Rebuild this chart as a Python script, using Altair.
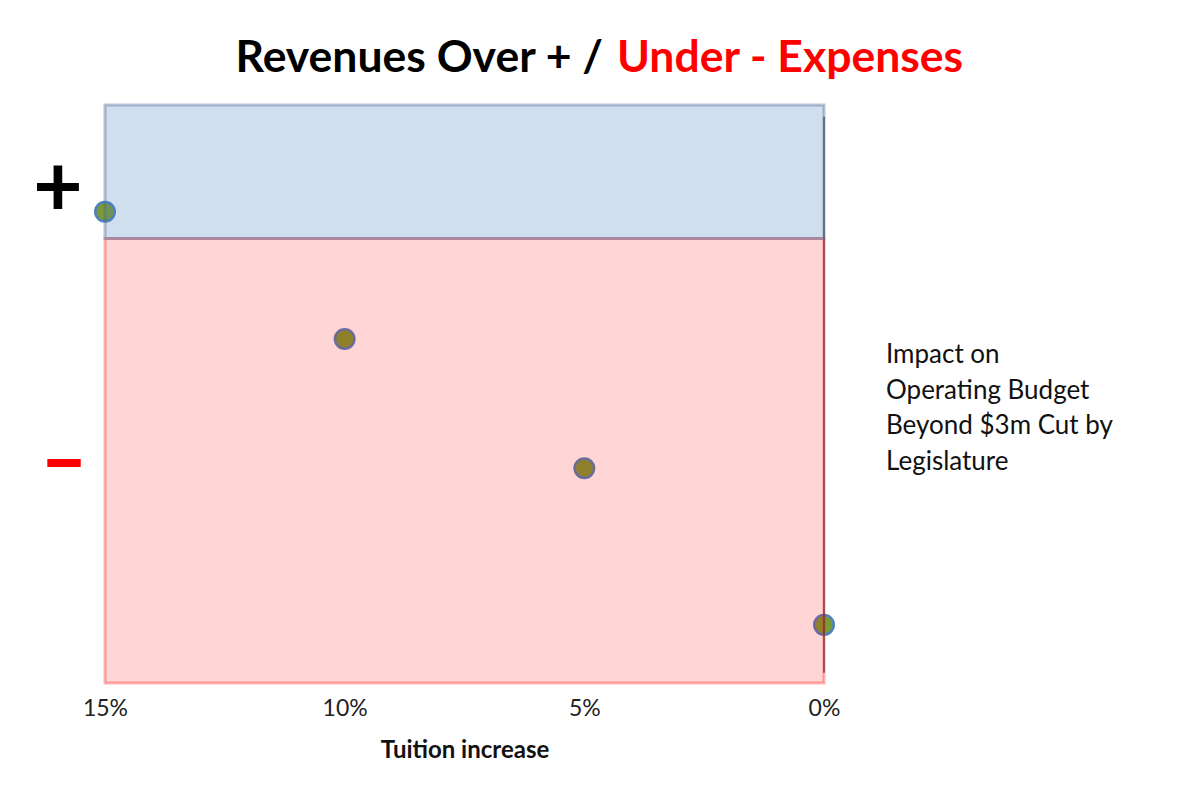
import altair as alt
import pandas as pd

# ---- data ----
tuition = [0.15, 0.10, 0.05, 0.0]
impact = [0.39, -1.47, -3.36, -5.65]

y_top = 1.95
y_bottom = -6.5

band_x_start = [0.15, 0.15]
band_x_end = [0.0, 0.0]
band_y_start = [0.0, y_bottom]
band_y_end = [y_top, 0.0]
band_name = ["over", "under"]

x_ticks = [0.15, 0.10, 0.05, 0.0]

title_black = "Revenues Over + /"
title_red = "Under - Expenses"
note_lines = ["Impact on", "Operating Budget", "Beyond $3m Cut by", "Legislature"]

W, H = 719, 578
FONT = "Lato"

pts = pd.DataFrame({"tuition": tuition, "impact": impact})
bands = pd.DataFrame({"x": band_x_start, "x2": band_x_end, "y": band_y_start,
                      "y2": band_y_end, "band": band_name})
axis_line = pd.DataFrame({"x": [0.0], "y": [1.78], "y2": [-6.35]})

xscale = alt.Scale(domain=[0.0, 0.15], reverse=True, nice=False, zero=False)
yscale = alt.Scale(domain=[y_bottom, y_top], nice=False, zero=False)

xaxis = alt.Axis(values=x_ticks, format=".0%", domain=False, ticks=False, grid=False,
                 labelFlush=False,
                 labelFont=FONT, labelFontSize=23, labelColor="#222222", labelPadding=14,
                 title="Tuition increase", titleFont=FONT, titleFontSize=24,
                 titleFontWeight="bold", titleColor="#111111", titlePadding=18)

points = alt.Chart(pts).mark_point(
    shape="circle", filled=True, size=380, fill="#7a9a35", fillOpacity=1,
    stroke="#4f81bd", strokeWidth=2.5, strokeOpacity=1, opacity=1
).encode(
    x=alt.X("tuition:Q", scale=xscale, axis=xaxis),
    y=alt.Y("impact:Q", scale=yscale, axis=None),
)

vline = alt.Chart(axis_line).mark_rule(color="#4a4a4a", strokeWidth=1.5).encode(
    x="x:Q", y="y:Q", y2="y2:Q"
)

red = alt.Chart(bands[bands.band == "under"]).mark_rect(
    fill="#ff0000", fillOpacity=0.165, stroke="#ff0000", strokeWidth=3, strokeOpacity=0.3
).encode(x="x:Q", x2="x2:Q", y="y:Q", y2="y2:Q")

blue = alt.Chart(bands[bands.band == "over"]).mark_rect(
    fill="#4f81bd", fillOpacity=0.26, stroke="#4a6a95", strokeWidth=3, strokeOpacity=0.4
).encode(x="x:Q", x2="x2:Q", y="y:Q", y2="y2:Q")

t1 = alt.Chart(pd.DataFrame({"t": [title_black]})).mark_text(
    font=FONT, fontSize=44.5, fontWeight="bold", color="#000000", align="right",
    baseline="alphabetic"
).encode(x=alt.value(498), y=alt.value(-33), text="t:N")

t2 = alt.Chart(pd.DataFrame({"t": [title_red]})).mark_text(
    font=FONT, fontSize=44.5, fontWeight="bold", color="#ff0000", align="left",
    baseline="alphabetic"
).encode(x=alt.value(512), y=alt.value(-33), text="t:N")

plus = alt.Chart(pd.DataFrame({"t": ["+"]})).mark_text(
    font=FONT, fontSize=86, fontWeight="bold", color="#000000", align="center",
    baseline="middle"
).encode(x=alt.value(-47), y=alt.value(85), text="t:N")

minus = alt.Chart(pd.DataFrame({"t": ["–"]})).mark_text(
    font=FONT, fontSize=82, fontWeight=900, color="#ff0000", align="center",
    baseline="middle"
).encode(x=alt.value(-41), y=alt.value(358), text="t:N")

note = alt.Chart(pd.DataFrame({"t": [0]})).mark_text(
    font=FONT, fontSize=26, color="#111111", align="left", baseline="alphabetic",
    lineHeight=35.6, text=note_lines
).encode(x=alt.value(781), y=alt.value(258))

chart = alt.layer(points, vline, red, blue, t1, t2, plus, minus, note).properties(
    width=W, height=H,
    autosize=alt.AutoSizeParams(type="none"),
    padding={"left": 97, "top": 97, "right": 356, "bottom": 102},
    background="white",
).configure_view(stroke=None)

chart.save("out.html", embed_options={"renderer": "svg", "actions": False})
